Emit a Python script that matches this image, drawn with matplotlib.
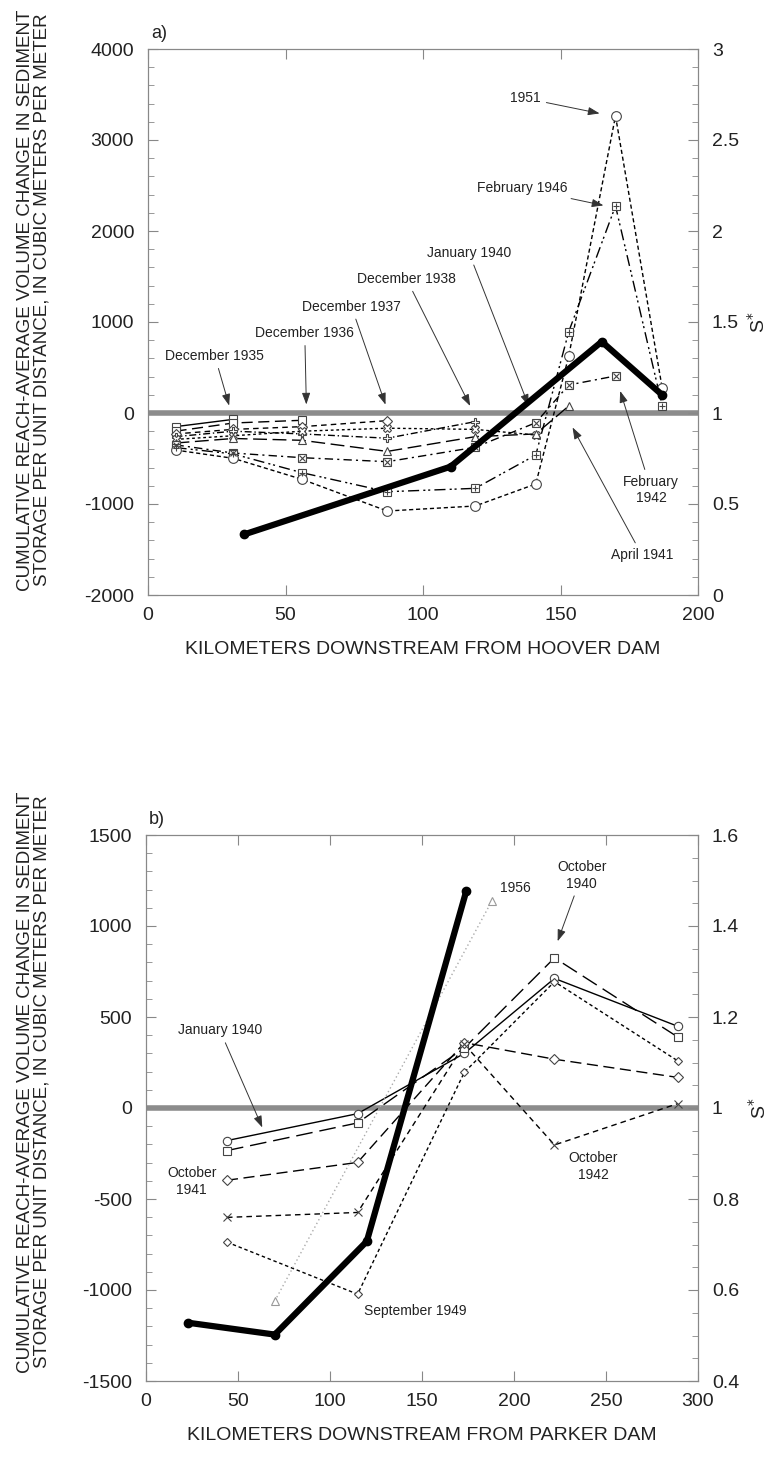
import matplotlib.pyplot as plt
from matplotlib.ticker import MultipleLocator, FormatStrFormatter

plt.rcParams['font.family'] = ['Liberation Sans', 'DejaVu Sans']
plt.rcParams['axes.unicode_minus'] = False

# ---- panel a data (Hoover Dam) ----
x_a = [10, 31, 56, 87, 119, 141, 153, 170, 187]
dec1935 = [-150, -70]
dec1936 = [-200, -110, -80]
dec1937 = [-230, -180, -150, -84]
dec1938 = [-260, -200, -230, -277, -95]
jan1940 = [-290, -250, -200, -167, -180, -242]
apr1941 = [-330, -280, -300, -422, -260, -230, 77]
feb1942 = [-350, -440, -491, -535, -377, -107, 308, 407]
feb1946 = [-380, -450, -656, -865, -828, -462, 894, 2275, 77]
y1951 = [-407, -498, -729, -1077, -1022, -780, 626, 3264, 271]
s_x_a = [35, 110, 165, 187]
s_a = [0.333, 0.705, 1.392, 1.099]

# ---- panel b data (Parker Dam) ----
x_b = [44, 115, 173, 222, 289]
jan1940_b = [-179, -31, 300, 712, 449]
oct1940 = [-234, -82, 330, 825, 390]
oct1941 = [-397, -299, 359, 268, 168]
oct1942 = [-601, -574, 350, -203, 24]
sep1949 = [-737, -1023, 196, 694, 259]
x_1956 = [70, 188]
y1956 = [-1060, 1138]
s_x_b = [23, 70, 120, 174]
s_b = [0.528, 0.502, 0.707, 1.476]

ylab = 'CUMULATIVE REACH-AVERAGE VOLUME CHANGE IN SEDIMENT\nSTORAGE PER UNIT DISTANCE, IN CUBIC METERS PER METER'
txt = '#222222'
frame = '#888888'

fig = plt.figure(figsize=(7.75, 14.57), dpi=100)
ax_a = fig.add_axes([148/775, 1-595/1457, 550/775, 546/1457])
ax_b = fig.add_axes([146/775, 1-1381/1457, 552/775, 546/1457])


def series(ax, x, y, ls, mk, ms=6, extra=None, color='black', mec='#444444'):
    ax.plot(x[:len(y)], y, color=color, lw=1.0, ls=ls, zorder=3)
    ax.plot(x[:len(y)], y, ls='none', marker=mk, ms=ms, mfc='white', mec=mec, mew=0.8, zorder=4)
    if extra:
        ax.plot(x[:len(y)], y, ls='none', marker=extra, ms=ms-1, mec=mec, mew=0.8, zorder=5)


def style(ax, ax2, xmax, xstep, ylim, ymaj, ymin_, s_lim, s_maj, s_min, xlabel):
    ax.set_xlim(0, xmax)
    ax.set_ylim(*ylim)
    ax2.set_ylim(*s_lim)
    ax.xaxis.set_major_locator(MultipleLocator(xstep))
    ax.yaxis.set_major_locator(MultipleLocator(ymaj))
    ax.yaxis.set_minor_locator(MultipleLocator(ymin_))
    ax2.yaxis.set_major_locator(MultipleLocator(s_maj))
    ax2.yaxis.set_minor_locator(MultipleLocator(s_min))
    ax2.yaxis.set_major_formatter(FormatStrFormatter('%g'))
    ax.tick_params(axis='x', direction='in', top=True, length=7, color=frame, labelsize=14, pad=9, labelcolor=txt)
    ax.tick_params(axis='y', which='major', direction='in', length=7, color=frame, labelsize=14, pad=10, labelcolor=txt)
    ax.tick_params(axis='y', which='minor', direction='in', length=4, color=frame)
    ax2.tick_params(axis='y', which='major', direction='in', length=7, color=frame, labelsize=14, pad=10, labelcolor=txt)
    ax2.tick_params(axis='y', which='minor', direction='in', length=4, color=frame)
    for a in (ax, ax2):
        for sp in a.spines.values():
            sp.set_color(frame)
    ax.axhline(0, color='#8c8c8c', lw=4, zorder=2)
    ax.set_xlabel(xlabel, fontsize=14, color=txt, labelpad=12)
    ax2.set_ylabel(r'S$^{*}$', fontsize=14, color=txt, rotation=90, labelpad=6)


def note(ax, text, xytext, xy=None):
    if xy is None:
        ax.text(xytext[0], xytext[1], text, fontsize=10, color=txt, ha='center', va='center', zorder=6)
        return
    props = dict(arrowstyle='-|>,head_length=0.7,head_width=0.25', color='#333333', lw=0.7)
    ax.annotate(text, xy=xy, xytext=xytext, fontsize=10, color=txt, ha='center', va='center',
                arrowprops=props, zorder=6)


# ---------- panel a ----------
ax2a = ax_a.twinx()
series(ax_a, x_a, dec1935, '-', 's')
series(ax_a, x_a, dec1936, (0, (8, 4)), 's')
series(ax_a, x_a, dec1937, (0, (4, 3)), 'D', ms=5)
series(ax_a, x_a, dec1938, (0, (5, 2, 1, 2)), 'P', ms=6)
series(ax_a, x_a, jan1940, (0, (2, 2)), 'X', ms=6)
series(ax_a, x_a, apr1941, (0, (10, 4)), '^')
series(ax_a, x_a, feb1942, (0, (6, 3, 1.5, 3)), 's', extra='x')
series(ax_a, x_a, feb1946, (0, (8, 3, 1.5, 2, 1.5, 3)), 's', extra='+')
series(ax_a, x_a, y1951, (0, (3, 2)), 'o', ms=7)
ax2a.plot(s_x_a, s_a, color='black', lw=4.5, marker='o', ms=6, solid_capstyle='round', zorder=5)
style(ax_a, ax2a, 200, 50, (-2000, 4000), 1000, 200, (0, 3), 0.5, 0.1,
      'KILOMETERS DOWNSTREAM FROM HOOVER DAM')

note(ax_a, 'December 1935', (24.3, 626), (29.8, 52))
note(ax_a, 'December 1936', (57, 879), (57.6, 63))
note(ax_a, 'December 1937', (74, 1168), (86.7, 63))
note(ax_a, 'December 1938', (94, 1472), (117.6, 50))
note(ax_a, 'January 1940', (116.7, 1762), (138.8, 50))
note(ax_a, 'February 1946', (136, 2470), (166.6, 2275))
note(ax_a, '1951', (137.3, 3458), (165.2, 3286))
note(ax_a, 'February\n1942', (183, -846), (171.4, 271))
note(ax_a, 'April 1941', (179.6, -1561), (153.9, -132))
ax_a.text(0.005, 1.012, 'a)', transform=ax_a.transAxes, fontsize=13, color=txt, ha='left', va='bottom')

# ---------- panel b ----------
ax2b = ax_b.twinx()
series(ax_b, x_b, jan1940_b, '-', 'o')
series(ax_b, x_b, oct1940, (0, (12, 5)), 's')
series(ax_b, x_b, oct1941, (0, (8, 4)), 'D', ms=5)
series(ax_b, x_b, oct1942, (0, (4, 3)), 'x')
series(ax_b, x_b, sep1949, (0, (2.5, 2)), 'D', ms=4)
series(ax_b, x_1956, y1956, (0, (1, 2)), '^', color='#aaaaaa', mec='#999999')
ax2b.plot(s_x_b, s_b, color='black', lw=4.5, marker='o', ms=6, solid_capstyle='round', zorder=5)
style(ax_b, ax2b, 300, 50, (-1500, 1500), 500, 100, (0.4, 1.6), 0.2, 0.05,
      'KILOMETERS DOWNSTREAM FROM PARKER DAM')

note(ax_b, 'January 1940', (40.2, 426), (63.8, -121))
note(ax_b, 'October\n1941', (24.8, -404))
note(ax_b, 'September 1949', (146.2, -1117))
note(ax_b, '1956', (200.5, 1210))
note(ax_b, 'October\n1940', (236.8, 1278), (223.2, 902))
note(ax_b, 'October\n1942', (243.1, -321))
ax_b.text(0.005, 1.012, 'b)', transform=ax_b.transAxes, fontsize=13, color=txt, ha='left', va='bottom')

for yc in (300, 1082):
    fig.text(34/775, 1-yc/1457, ylab, rotation=90, fontsize=13.5, color=txt,
             ha='center', va='center', multialignment='center', linespacing=1.0)

fig.savefig('out.png', dpi=100)
